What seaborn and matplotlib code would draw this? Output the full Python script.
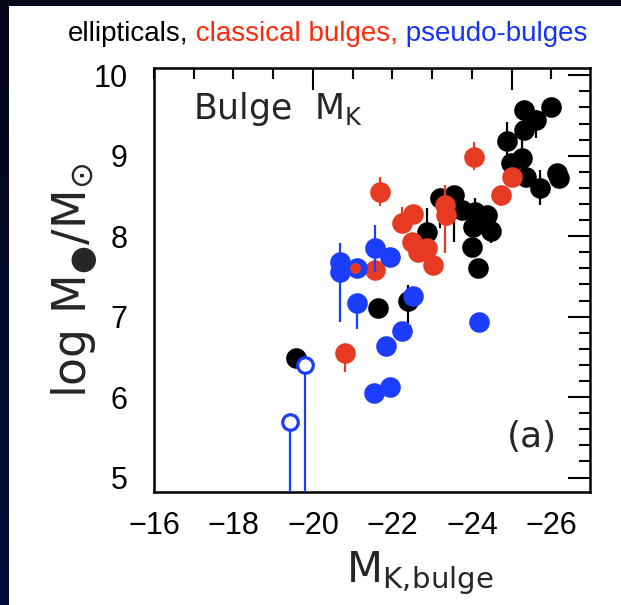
import numpy as np
import pandas as pd
import matplotlib
matplotlib.use("Agg")
import matplotlib.pyplot as plt
import seaborn as sns
from matplotlib.ticker import FixedLocator, MultipleLocator, FuncFormatter
from matplotlib.colors import LinearSegmentedColormap
from matplotlib.patches import Rectangle

# ---------------- data ----------------
ell_mk = [-19.57, -21.63, -22.38, -22.88, -23.19, -23.56, -23.76, -24.07, -24.37,
          -24.02, -24.49, -23.99, -24.14, -25.32, -26.00, -25.62, -25.32, -24.89,
          -25.27, -24.99, -25.37, -25.70, -26.13, -26.20]
ell_logm = [6.48, 7.11, 7.19, 8.05, 8.47, 8.51, 8.32, 8.30, 8.26,
            8.11, 8.07, 7.86, 7.61, 9.57, 9.60, 9.44, 9.32, 9.18,
            8.97, 8.91, 8.73, 8.60, 8.78, 8.72]
ell_err_lo = [0.05, 0.08, 0.27, 0.19, 0.37, 0.58, 0.0, 0.0, 0.0,
              0.0, 0.16, 0.0, 0.13, 0.0, 0.0, 0.22, 0.0, 0.24,
              0.0, 0.0, 0.0, 0.21, 0.0, 0.0]
ell_err_hi = [0.05, 0.0, 0.20, 0.30, 0.10, 0.10, 0.0, 0.18, 0.0,
              0.0, 0.0, 0.0, 0.0, 0.0, 0.0, 0.13, 0.0, 0.24,
              0.26, 0.0, 0.0, 0.22, 0.0, 0.0]

cls_mk = [-24.04, -25.02, -24.72, -23.31, -23.34, -22.51, -22.23, -22.48,
          -22.63, -22.86, -23.01, -21.68, -21.55, -20.80]
cls_logm = [8.98, 8.73, 8.51, 8.39, 8.26, 8.27, 8.16, 7.93,
            7.80, 7.85, 7.64, 8.55, 7.58, 6.55]
cls_err_lo = [0.16, 0.0, 0.0, 0.60, 0.0, 0.0, 0.0, 0.0,
              0.0, 0.0, 0.0, 0.18, 0.0, 0.24]
cls_err_hi = [0.19, 0.0, 0.0, 0.24, 0.0, 0.0, 0.20, 0.0,
              0.0, 0.0, 0.0, 0.18, 0.0, 0.0]
cls_small_mk = [-21.05]
cls_small_logm = [7.61]

pse_mk = [-20.67, -20.67, -21.10, -21.55, -21.93, -21.10, -22.51, -22.23,
          -21.83, -21.53, -21.95, -24.17]
pse_logm = [7.68, 7.55, 7.61, 7.85, 7.74, 7.17, 7.25, 6.82,
            6.63, 6.05, 6.12, 6.93]
pse_err_lo = [0.75, 0.0, 0.0, 0.30, 0.0, 0.33, 0.0, 0.0,
              0.0, 0.0, 0.0, 0.0]
pse_err_hi = [0.23, 0.0, 0.0, 0.29, 0.0, 0.0, 0.0, 0.0,
              0.0, 0.0, 0.0, 0.0]
# upper limits (open circles)
lim_mk = [-19.42, -19.79]
lim_logm = [5.69, 6.40]
lim_floor = 4.0

x_tick_labels = [-16, -18, -20, -22, -24, -26]
y_tick_labels = [5, 6, 7, 8, 9, 10]

BLACK = "#000000"
RED = "#e63b22"
BLUE = "#1b3dfd"

# ---------------- figure ----------------
sns.set_theme(style="white")
plt.rcParams["font.family"] = ["Liberation Sans", "DejaVu Sans"]
plt.rcParams["mathtext.fontset"] = "dejavusans"
plt.rcParams["axes.unicode_minus"] = True

fig = plt.figure(figsize=(6.21, 6.05), dpi=100)

# dark frame background (gradient) with white panel
bg = fig.add_axes([0, 0, 1, 1], zorder=-10)
grad = np.linspace(0, 1, 256).reshape(-1, 1)
cmap = LinearSegmentedColormap.from_list("bg", ["#06061a", "#000d3a"])
bg.imshow(grad, aspect="auto", cmap=cmap, extent=[0, 1, 0, 1])
bg.set_axis_off()
fig.add_artist(Rectangle((9 / 621, 0), 1, 1 - 6 / 605, transform=fig.transFigure,
                         facecolor="white", edgecolor="none", zorder=-5))

ax = fig.add_axes([154 / 621, 1 - 492 / 605, 436 / 621, 424 / 605])
ax.set_facecolor("white")

def draw_group(mk, logm, lo, hi, color, z):
    df = pd.DataFrame({"mk": mk, "logm": logm})
    lo = np.array(lo); hi = np.array(hi)
    m = (lo > 0) | (hi > 0)
    if m.any():
        ax.errorbar(np.array(mk)[m], np.array(logm)[m], yerr=[lo[m], hi[m]],
                    fmt="none", ecolor=color, elinewidth=1.6, capsize=0, zorder=z)
    sns.scatterplot(data=df, x="mk", y="logm", color=color, s=220, linewidth=0,
                    ax=ax, zorder=z + 0.5, legend=False)

draw_group(ell_mk, ell_logm, ell_err_lo, ell_err_hi, BLACK, 2)
draw_group(cls_mk, cls_logm, cls_err_lo, cls_err_hi, RED, 3)
draw_group(pse_mk, pse_logm, pse_err_lo, pse_err_hi, BLUE, 4)

sns.scatterplot(x=cls_small_mk, y=cls_small_logm, color=RED, s=60, linewidth=0,
                ax=ax, zorder=6, legend=False)

lim_lo = np.array(lim_logm) - lim_floor
ax.errorbar(lim_mk, lim_logm, yerr=[lim_lo, np.zeros_like(lim_lo)], fmt="none",
            ecolor=BLUE, elinewidth=1.6, capsize=0, zorder=5)
sns.scatterplot(x=lim_mk, y=lim_logm, facecolor="white", edgecolor=BLUE, s=125,
                linewidth=2.3, ax=ax, zorder=5.5, legend=False)

ax.set_xlim(-16, -26.97)
ax.set_ylim(4.82, 10.09)

# ticks
ax.xaxis.set_major_locator(FixedLocator([-20, -25]))
ax.xaxis.set_minor_locator(MultipleLocator(1))

def fmt_x(v, pos=None):
    iv = int(round(v))
    return f"\u2212{-iv}" if iv in x_tick_labels else ""

ax.xaxis.set_major_formatter(FuncFormatter(fmt_x))
ax.xaxis.set_minor_formatter(FuncFormatter(fmt_x))
ax.yaxis.set_major_locator(FixedLocator(y_tick_labels))
ax.yaxis.set_minor_locator(MultipleLocator(0.2))
ax.yaxis.set_major_formatter(FuncFormatter(lambda v, p: f"{int(round(v))}"))

ax.tick_params(which="both", direction="in", top=True, right=True, color="black",
               width=1.5, labelcolor="black", labelsize=22)
ax.tick_params(which="major", length=16)
ax.tick_params(which="minor", length=8)
ax.tick_params(axis="x", which="both", pad=14)
ax.tick_params(axis="y", which="both", pad=19)

for sp in ax.spines.values():
    sp.set_color("black")
    sp.set_linewidth(1.8)
    sp.set_visible(True)
ax.grid(False)

ax.set_xlabel(r"M$_{\mathrm{K,\!bulge}}$", fontsize=30, family="DejaVu Sans")
ax.xaxis.set_label_coords(0.61, -0.135)
ax.set_ylabel(r"log M$_{●}$/M$_{\odot}$", fontsize=33, family="DejaVu Sans")
ax.yaxis.set_label_coords(-0.125, 0.5)

ax.text(0.089, 0.88, r"Bulge  M$_{\mathrm{K}}$", transform=ax.transAxes,
        fontsize=25, family="DejaVu Sans", ha="left", va="baseline")
ax.text(0.924, 0.13, "(a)", transform=ax.transAxes, fontsize=26,
        family="DejaVu Sans", ha="right", va="center")

# multi-coloured title line
renderer = fig.canvas.get_renderer()
parts = [("ellipticals,", "#000000"), (" classical bulges,", "#ff2a0a"),
         (" pseudo-bulges", "#1433ff")]
tx = 68 / 621
ty = 1 - 41 / 605
for s, c in parts:
    t = fig.text(tx, ty, s, color=c, fontsize=20, family="Liberation Sans",
                 ha="left", va="baseline")
    bb = t.get_window_extent(renderer)
    tx = bb.x1 / fig.bbox.width

fig.savefig("out.png", dpi=100, facecolor=fig.get_facecolor())
